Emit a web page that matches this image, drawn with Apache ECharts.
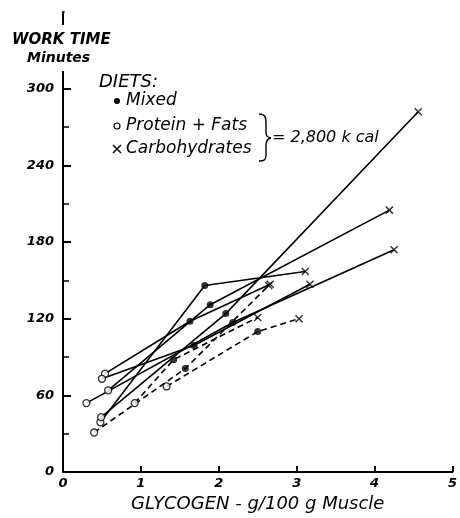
<!DOCTYPE html>
<html><head><meta charset="utf-8">
<script src="https://cdn.jsdelivr.net/npm/echarts@6/dist/echarts.min.js"></script>
<style>html,body{margin:0;padding:0;background:#fff}#c{width:460px;height:518px}</style>
</head><body><div id="c"></div>
<script>
// Each index i is one subject: protein+fat (o) -> mixed (•) -> carbohydrate (x)
const proteinFatX = [0.48, 0.58, 0.54, 0.49, 0.30, 0.50, 1.33, 0.92, 0.40];
const proteinFatY = [39, 64, 77, 43, 54, 73, 67, 54, 31];
const mixedX = [1.82, 1.89, 1.63, 2.09, 2.18, 1.68, 2.50, 1.42, 1.57];
const mixedY = [146, 131, 118, 124, 117, 99, 110, 88, 81];
const carbX = [3.11, 4.19, 2.66, 4.56, 4.25, 3.17, 3.03, 2.50, 2.64];
const carbY = [157, 205, 147, 282, 174, 147, 120, 121, 146];
const lineTypes = ['solid','solid','solid','solid','solid','solid','dashed','dashed','dashed'];
const xTicks = [0, 1, 2, 3, 4, 5];
const yTickLabels = [0, 60, 120, 180, 240, 300];

const FONT = 'DejaVu Sans';
const chart = echarts.init(document.getElementById('c'), null, {renderer: 'canvas'});
const xPath = 'path://M0,0L10,10M10,0L0,10';

const series = [];
for (let i = 0; i < proteinFatX.length; i++) {
  series.push({
    type: 'line', symbol: 'none', silent: true, z: 2,
    data: [[proteinFatX[i], proteinFatY[i]], [mixedX[i], mixedY[i]], [carbX[i], carbY[i]]],
    lineStyle: {color: '#000', width: 1.6, type: lineTypes[i] === 'dashed' ? [6, 4] : 'solid'}
  });
}
series.push({
  type: 'scatter', z: 5, symbol: 'circle', symbolSize: 7,
  data: proteinFatX.map((x, i) => [x, proteinFatY[i]]),
  itemStyle: {color: '#fff', borderColor: '#000', borderWidth: 1.3}
});
series.push({
  type: 'scatter', z: 5, symbol: 'circle', symbolSize: 7,
  data: mixedX.map((x, i) => [x, mixedY[i]]),
  itemStyle: {color: '#000'}
});
series.push({
  type: 'scatter', z: 5, symbol: xPath, symbolSize: 7,
  data: carbX.map((x, i) => [x, carbY[i]]),
  itemStyle: {color: 'none', borderColor: '#000', borderWidth: 1.5}
});

const txt = (x, y, text, size, weight) => ({
  type: 'text', x: x, y: y, z: 100,
  style: {text: text, fill: '#000', font: 'italic ' + (weight || 'normal') + ' ' + size + 'px "' + FONT + '"', verticalAlign: 'middle', textVerticalAlign: 'middle'}
});
const ln = (x1, y1, x2, y2) => ({type: 'line', z: 100, shape: {x1, y1, x2, y2}, style: {stroke: '#000', lineWidth: 1.4}});
const bz = (x1, y1, cpx1, cpy1, cpx2, cpy2, x2, y2) => ({type: 'bezierCurve', z: 100,
  shape: {x1, y1, cpx1, cpy1, cpx2, cpy2, x2, y2}, style: {stroke: '#000', lineWidth: 1.4, fill: 'none'}});

chart.setOption({
  animation: false,
  grid: {left: 63, right: 3, top: 12, bottom: 41, containLabel: false},
  xAxis: {
    type: 'value', min: 0, max: 5, interval: 1,
    name: 'GLYCOGEN - g/100 g Muscle', nameLocation: 'middle', nameGap: 19,
    nameTextStyle: {fontFamily: FONT, fontStyle: 'italic', fontSize: 18, color: '#000'},
    axisLine: {lineStyle: {color: '#000', width: 2}},
    axisTick: {inside: true, length: 6, lineStyle: {color: '#000', width: 2}},
    axisLabel: {margin: 5, fontFamily: FONT, fontStyle: 'italic', fontWeight: 'bold', fontSize: 13, color: '#000',
      formatter: v => xTicks.indexOf(v) >= 0 ? String(v) : ''},
    splitLine: {show: false}
  },
  yAxis: {
    type: 'value', min: 0, max: 360, interval: 60,
    axisLine: {show: true, lineStyle: {color: '#000', width: 2}},
    axisTick: {show: true, inside: true, length: 8, lineStyle: {color: '#000', width: 2}},
    minorTick: {show: true, splitNumber: 2, length: 6, lineStyle: {color: '#000', width: 1.5}},
    axisLabel: {margin: 9, fontFamily: FONT, fontStyle: 'italic', fontWeight: 'bold', fontSize: 13, color: '#000',
      formatter: v => yTickLabels.indexOf(v) >= 0 ? String(v) : ''},
    splitLine: {show: false}
  },
  graphic: [
    {type: 'rect', z: 99, shape: {x: 55, y: 25, width: 16, height: 46}, style: {fill: '#fff'}},
    {type: 'rect', z: 99, shape: {x: 64.5, y: 8, width: 10, height: 10}, style: {fill: '#fff'}},
    txt(12, 40, 'WORK TIME', 15, 'bold'),
    txt(27, 58, 'Minutes', 14, 'bold'),
    txt(99, 82, 'DIETS:', 18),
    {type: 'circle', z: 100, shape: {cx: 117, cy: 101, r: 3}, style: {fill: '#000'}},
    txt(126, 101, 'Mixed', 17),
    {type: 'circle', z: 100, shape: {cx: 117, cy: 126, r: 3}, style: {fill: '#fff', stroke: '#000', lineWidth: 1.2}},
    txt(126, 126, 'Protein + Fats', 17),
    ln(113, 145, 121, 153), ln(121, 145, 113, 153),
    txt(126, 149, 'Carbohydrates', 17),
    bz(259, 114, 265, 114, 266, 117, 266, 123),
    ln(266, 123, 266, 132),
    bz(266, 132, 266, 136, 267, 137, 271, 138),
    bz(271, 138, 267, 139, 266, 141, 266, 145),
    ln(266, 145, 266, 155),
    bz(266, 155, 266, 160, 264, 161, 259, 161),
    txt(272, 138, '= 2,800 k cal', 16)
  ],
  series: series
});
</script></body></html>
